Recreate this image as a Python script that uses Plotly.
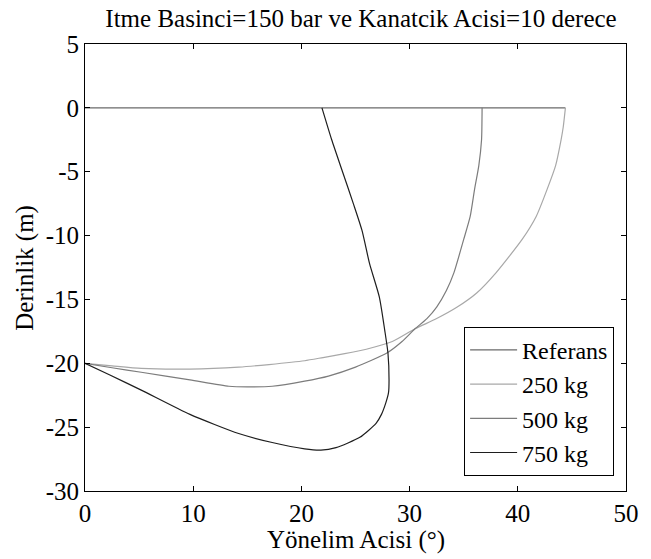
import plotly.graph_objects as go

# Data
ref_x = [0, 44.4]
ref_y = [0, 0]

kg250_x = [44.4, 44.2, 44.0, 43.5, 42.7, 41.7, 40.4, 38.0, 36.2, 34.4, 32.5, 30.5, 28.4, 26.0, 24.0, 22.0, 20.3, 17.0, 14.2, 9.7, 5.2, 2.5, 0.0]
kg250_y = [0.0, -1.5, -2.5, -4.5, -6.4, -8.5, -10.3, -12.9, -14.5, -15.6, -16.5, -17.3, -18.3, -18.9, -19.25, -19.55, -19.8, -20.1, -20.3, -20.45, -20.4, -20.2, -20.0]

kg500_x = [36.7, 36.65, 36.4, 36.0, 35.6, 35.0, 34.1, 33.4, 32.5, 31.6, 30.5, 29.3, 27.9, 25.0, 22.5, 20.3, 17.3, 15.0, 13.3, 9.7, 5.2, 2.5, 0.0]
kg500_y = [0.0, -2.5, -4.5, -6.4, -8.5, -10.3, -12.9, -14.3, -15.6, -16.5, -17.3, -18.3, -19.2, -20.3, -21.0, -21.4, -21.8, -21.85, -21.8, -21.3, -20.7, -20.35, -20.0]

kg750_x = [21.9, 22.8, 23.8, 24.8, 25.6, 26.3, 27.2, 27.7, 28.0, 28.1, 28.05, 27.8, 27.4, 26.9, 25.4, 23.2, 21.8, 20.3, 17.3, 14.2, 9.7, 5.2, 2.25, 0.0]
kg750_y = [0.0, -2.5, -5.0, -7.5, -9.6, -12.2, -14.8, -17.4, -19.2, -21.3, -22.3, -23.1, -24.0, -24.7, -25.8, -26.6, -26.8, -26.7, -26.2, -25.5, -24.0, -22.1, -20.9, -20.0]

x_ticks = [0, 10, 20, 30, 40, 50]
x_ticklabels = ["0", "10", "20", "30", "40", "50"]
y_ticks = [-30, -25, -20, -15, -10, -5, 0, 5]
y_ticklabels = ["-30", "-25", "-20", "-15", "-10", "-5", "0", "5"]

names = ["Referans", "250 kg", "500 kg", "750 kg"]
colors = ["#6a6a6a", "#a8a8a8", "#7c7c7c", "#1e1e1e"]

FONT = "Liberation Serif, Times New Roman, serif"
W, H = 651, 559
L, R, T, B = 85, 14, 44, 68
PW, PH = W - L - R, H - T - B

fig = go.Figure()
series = [(ref_x, ref_y), (kg250_x, kg250_y), (kg500_x, kg500_y), (kg750_x, kg750_y)]
for (xs, ys), name, col in zip(series, names, colors):
    fig.add_trace(go.Scatter(
        x=xs, y=ys, mode="lines", name=name,
        line=dict(color=col, width=1.2, shape="spline", smoothing=0.6),
    ))

axis_common = dict(
    showline=True, linecolor="black", linewidth=1, mirror="allticks",
    ticks="inside", ticklen=5, tickcolor="black", tickwidth=1,
    showgrid=False, zeroline=False,
    tickfont=dict(family=FONT, size=25, color="black"),
)

fig.update_layout(
    width=W, height=H,
    margin=dict(l=L, r=R, t=T, b=B),
    paper_bgcolor="white", plot_bgcolor="white",
    title=dict(text="Itme Basinci=150 bar ve Kanatcik Acisi=10 derece",
               x=(L + (W - R)) / 2 / W, xanchor="center",
               y=1 - 18 / H, yanchor="middle", yref="container",
               font=dict(family=FONT, size=25, color="black")),
    xaxis=dict(range=[0, 50], tickvals=x_ticks, ticktext=x_ticklabels, **axis_common),
    yaxis=dict(range=[-30, 5], tickvals=y_ticks, ticktext=y_ticklabels, **axis_common),
    legend=dict(x=0.978, y=0.034, xanchor="right", yanchor="bottom",
                bordercolor="black", borderwidth=1, bgcolor="white",
                font=dict(family=FONT, size=24, color="black"),
                tracegroupgap=0, itemwidth=47),
    showlegend=True,
    annotations=[
        dict(text="Yönelim Acisi (°)", xref="paper", yref="paper",
             x=0.5, y=-(540 - (T + PH)) / PH, xanchor="center", yanchor="middle",
             showarrow=False, font=dict(family=FONT, size=25, color="black")),
        dict(text="Derinlik (m)", xref="paper", yref="paper",
             x=-(L - 23) / PW, y=0.5, xanchor="center", yanchor="middle",
             textangle=-90, showarrow=False,
             font=dict(family=FONT, size=25, color="black")),
    ],
)

fig.write_html("out.html",
               config={"displayModeBar": False},
               post_script="document.body.style.margin='0';document.body.style.overflow='hidden';")
